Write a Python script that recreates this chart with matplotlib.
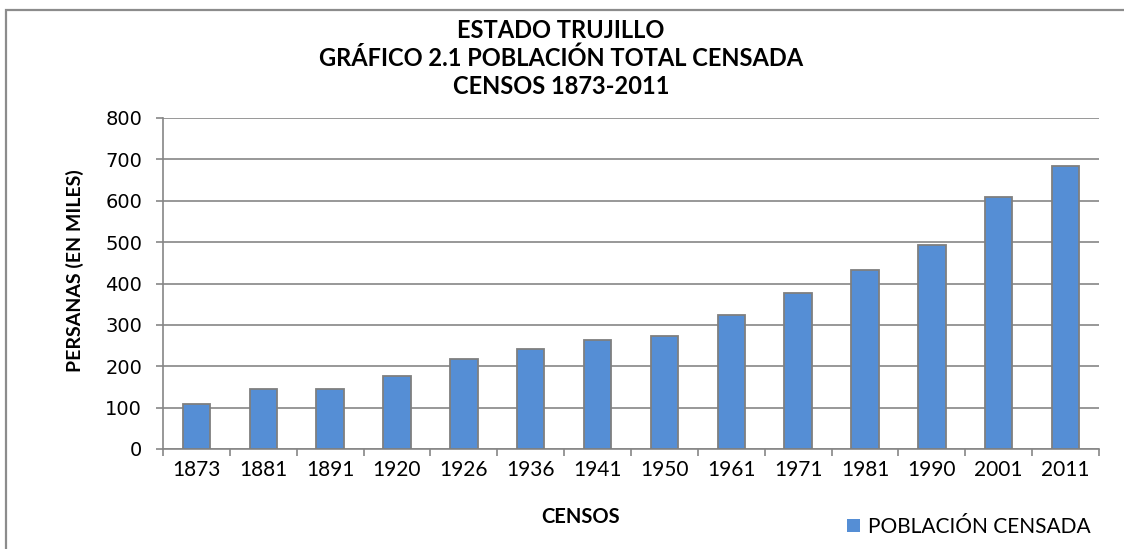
import matplotlib.pyplot as plt
import numpy as np
from matplotlib.patches import Rectangle

# census years and total population (thousands)
censos = ["1873", "1881", "1891", "1920", "1926", "1936", "1941",
          "1950", "1961", "1971", "1981", "1990", "2001", "2011"]
poblacion = [108, 145, 145, 176, 218, 241, 264, 273, 323, 378, 433, 494, 608, 685]
y_ticks = [0, 100, 200, 300, 400, 500, 600, 700, 800]

bar_color = "#558ed5"
grey = "#868686"
text_font = ["Lato", "DejaVu Sans"]

fig = plt.figure(figsize=(11.24, 5.49), dpi=100)
W, H = 1124, 549
ax = fig.add_axes([163 / W, 1 - 449 / H, (1099 - 163) / W, (449 - 118) / H])

x = np.arange(len(censos))
ax.bar(x, poblacion, width=0.41, color=bar_color, edgecolor="#7f7f7f",
       linewidth=1.3, zorder=3, label="POBLACIÓN CENSADA")

ax.set_xlim(-0.5, len(censos) - 0.5)
ax.set_ylim(0, 800)
ax.set_yticks(y_ticks)
ax.yaxis.grid(True, color=grey, linewidth=1.2, zorder=0)

# tick labels under bars, tick marks between categories
ax.set_xticks(x)
ax.set_xticklabels(censos, fontsize=15, family=text_font)
ax.set_xticks(np.arange(len(censos) + 1) - 0.5, minor=True)
ax.tick_params(axis="x", which="major", length=0, pad=8)
ax.tick_params(axis="x", which="minor", length=5, width=1.2, color=grey, direction="out")
ax.tick_params(axis="y", length=5, width=1.2, color=grey, pad=10, labelsize=14)
for lbl in ax.get_yticklabels():
    lbl.set_family("DejaVu Sans")

for side in ["top", "right"]:
    ax.spines[side].set_visible(False)
for side in ["left", "bottom"]:
    ax.spines[side].set_color(grey)
    ax.spines[side].set_linewidth(1.2)

# titles
titles = ["ESTADO TRUJILLO", "GRÁFICO 2.1 POBLACIÓN TOTAL CENSADA", "CENSOS 1873-2011"]
for i, t in enumerate(titles):
    fig.text(561 / W, 1 - (31 + 27.5 * i) / H, t, ha="center", va="center",
             fontsize=17, fontweight="bold", family=text_font)

fig.text(75 / W, 1 - 271 / H, "PERSANAS (EN MILES)", rotation=90, ha="center",
         va="center", fontsize=14, fontweight="bold", family=text_font)
fig.text(581 / W, 1 - 517 / H, "CENSOS", ha="center", va="center",
         fontsize=14.5, fontweight="bold", family=text_font)

leg = fig.legend(loc="center left", bbox_to_anchor=(847 / W, 1 - 527 / H),
                 frameon=False, prop={"family": text_font, "size": 15},
                 handlelength=0.6, handleheight=0.6, handletextpad=0.4,
                 borderaxespad=0, borderpad=0)
for h in leg.legend_handles:
    h.set_edgecolor("none")

# outer chart frame, running off the right and bottom edges
fig.patches.append(Rectangle((6 / W, -0.1), 1.2, 1 - 10 / H + 0.1,
                             transform=fig.transFigure, fill=False,
                             edgecolor="#8c8c8c", linewidth=1.6))

plt.savefig("out.png", dpi=100)
